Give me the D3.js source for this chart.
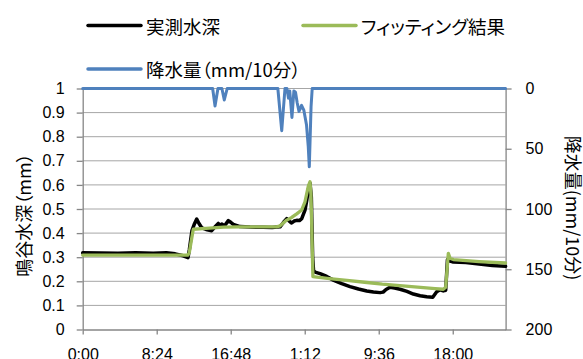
<!DOCTYPE html>
<html>
<head>
<meta charset="utf-8">
<script src="https://cdn.jsdelivr.net/npm/d3@7"></script>
<style>
  html, body { margin: 0; padding: 0; background: #fff; }
  svg { display: block; }
  .tick text { font-family: "Liberation Sans", Arial, sans-serif; font-size: 16px; fill: #000; }
  .jp { font-family: "Noto Sans CJK JP", sans-serif; font-feature-settings: "palt"; fill: #000; }
</style>
</head>
<body>
<svg id="chart" width="583" height="359"></svg>
<script>
// Measured water depth (hours from start, depth in mm)
const measuredHours = [0, 2, 4, 6, 8, 9.5, 10.5, 11.4, 11.95, 12.1, 12.4, 12.7, 12.94, 13.2, 13.51, 14.0, 14.64, 15.0, 15.39, 15.6, 15.78, 16.1, 16.53, 16.8, 17.09, 17.86, 19, 20.5, 21.5, 22.4, 22.8, 23.16, 23.5, 23.72, 24.0, 24.29, 24.6, 24.86, 25.23, 25.45, 25.61, 25.8, 25.95, 26.1, 26.2, 26.37, 26.94, 27.7, 28.45, 29.4, 30.34, 31.3, 32.24, 33.0, 33.75, 34.1, 34.43, 34.88, 35.4, 36.02, 36.8, 37.53, 38.3, 39.05, 39.73, 40.18, 40.56, 40.93, 41.2, 41.4, 41.6, 42.07, 43.5, 45, 46.5, 48];
const measuredDepth = [0.318, 0.317, 0.316, 0.318, 0.316, 0.318, 0.314, 0.306, 0.298, 0.33, 0.41, 0.44, 0.458, 0.44, 0.422, 0.415, 0.41, 0.425, 0.44, 0.432, 0.438, 0.43, 0.452, 0.445, 0.436, 0.427, 0.425, 0.424, 0.423, 0.426, 0.445, 0.46, 0.448, 0.442, 0.45, 0.453, 0.452, 0.46, 0.495, 0.54, 0.58, 0.607, 0.55, 0.3, 0.245, 0.238, 0.232, 0.22, 0.205, 0.19, 0.178, 0.168, 0.16, 0.156, 0.153, 0.155, 0.166, 0.175, 0.172, 0.167, 0.158, 0.147, 0.14, 0.136, 0.134, 0.157, 0.165, 0.16, 0.163, 0.29, 0.285, 0.28, 0.278, 0.272, 0.266, 0.262];

// Fitted water depth
const fitHours = [0, 11.95, 12.1, 12.55, 14, 16, 18, 20, 22, 22.4, 23.16, 23.72, 24.29, 24.86, 25.23, 25.61, 25.8, 25.91, 26.13, 28, 30, 32, 34, 36, 38, 40, 40.93, 41.2, 41.5, 41.69, 42.07, 45, 48];
const fitDepth = [0.309, 0.309, 0.32, 0.416, 0.42, 0.425, 0.426, 0.426, 0.426, 0.43, 0.454, 0.465, 0.48, 0.496, 0.53, 0.595, 0.613, 0.56, 0.219, 0.211, 0.204, 0.196, 0.188, 0.182, 0.176, 0.17, 0.167, 0.175, 0.316, 0.296, 0.29, 0.282, 0.276];

// Rainfall (mm per 10 minutes)
const rainHours = [0, 14.75, 15.02, 15.35, 15.8, 16.07, 16.4, 22.15, 22.59, 22.96, 23.18, 23.36, 23.5, 23.75, 23.97, 24.15, 24.35, 24.55, 24.84, 25.1, 25.4, 25.6, 25.72, 25.92, 26.05, 48];
const rainValues = [0, 0, 14.5, 0, 0, 9.5, 0, 0, 35, 0, 0, 8, 2, 24, 2, 3, 12, 19, 14, 18, 30, 48, 65, 15, 0, 0];

// Axis ticks
const xTickHours = [0, 8.4, 16.8, 25.2, 33.6, 42];
const depthTicks = [0, 0.1, 0.2, 0.3, 0.4, 0.5, 0.6, 0.7, 0.8, 0.9, 1];
const rainTicks = [0, 50, 100, 150, 200];

const labels = {
  measured: "実測水深",
  fit: "フィッティング結果",
  rain: "降水量（mm/10分）",
  leftTitle: "鳴谷水深（mm）",
  rightTitle: "降水量(mm/10分)"
};

const colors = { measured: "#000000", fit: "#9BBB59", rain: "#4F81BD", grid: "#A6A6A6", axis: "#868686" };

const svg = d3.select("#chart");
const plot = { left: 82.7, right: 505.6, top: 88.5, bottom: 329.5 };

const x = d3.scaleLinear().domain([0, 48]).range([plot.left, plot.right]);
const y = d3.scaleLinear().domain([0, 1]).range([plot.bottom, plot.top]);
const yr = d3.scaleLinear().domain([0, 200]).range([plot.top, plot.bottom]);

// horizontal gridlines
svg.append("g").selectAll("line")
  .data(depthTicks.filter(d => d > 0))
  .join("line")
  .attr("x1", plot.left).attr("x2", plot.right)
  .attr("y1", d => y(d)).attr("y2", d => y(d))
  .attr("stroke", colors.grid).attr("stroke-width", 1);

function fmtTime(h) {
  const total = Math.round(h * 60) % (24 * 60);
  const hh = Math.floor(total / 60), mm = total % 60;
  return hh + ":" + String(mm).padStart(2, "0");
}

function styleAxis(g) {
  g.selectAll("path.domain").attr("stroke", colors.axis).attr("stroke-width", 1.3);
  g.selectAll(".tick line").attr("stroke", colors.axis).attr("stroke-width", 1.3);
}

// x axis
const gx = svg.append("g").attr("transform", `translate(0,${plot.bottom})`)
  .call(d3.axisBottom(x).tickValues(xTickHours).tickFormat(fmtTime).tickSize(5).tickSizeOuter(0).tickPadding(14.5));
styleAxis(gx);

// left axis
const gy = svg.append("g").attr("transform", `translate(${plot.left},0)`)
  .call(d3.axisLeft(y).tickValues(depthTicks).tickFormat(d => d3.format("")(d)).tickSize(6).tickSizeOuter(0).tickPadding(12));
styleAxis(gy);

// right axis
const gr = svg.append("g").attr("transform", `translate(${plot.right},0)`)
  .call(d3.axisRight(yr).tickValues(rainTicks).tickSize(6).tickSizeOuter(0).tickPadding(14));
styleAxis(gr);

// series lines
const rainLine = d3.line().x((d, i) => x(rainHours[i])).y(d => yr(d));
const depthLine = hours => d3.line().x((d, i) => x(hours[i])).y(d => y(d));

svg.append("path").datum(rainValues)
  .attr("d", rainLine)
  .attr("fill", "none").attr("stroke", colors.rain).attr("stroke-width", 3)
  .attr("stroke-linejoin", "round").attr("stroke-linecap", "round");

svg.append("path").datum(measuredDepth)
  .attr("d", depthLine(measuredHours))
  .attr("fill", "none").attr("stroke", colors.measured).attr("stroke-width", 3.5)
  .attr("stroke-linejoin", "round").attr("stroke-linecap", "round");

svg.append("path").datum(fitDepth)
  .attr("d", depthLine(fitHours))
  .attr("fill", "none").attr("stroke", colors.fit).attr("stroke-width", 3.3)
  .attr("stroke-linejoin", "round").attr("stroke-linecap", "round");

// legend
const legend = [
  { key: "measured", x: 88, y: 25.5 },
  { key: "fit", x: 303, y: 25.5 },
  { key: "rain", x: 88, y: 69 }
];
const lg = svg.append("g");
legend.forEach(item => {
  lg.append("line")
    .attr("x1", item.x).attr("x2", item.x + 53)
    .attr("y1", item.y).attr("y2", item.y)
    .attr("stroke", colors[item.key]).attr("stroke-width", 3.5)
    .attr("stroke-linecap", "round");
  lg.append("text").attr("class", "jp")
    .attr("x", item.x + 58).attr("y", item.y)
    .attr("dominant-baseline", "central")
    .attr("font-size", 18.5)
    .text(labels[item.key]);
});

// axis titles
svg.append("text").attr("class", "jp")
  .attr("transform", "translate(23,215) rotate(-90)")
  .attr("text-anchor", "middle").attr("dominant-baseline", "central")
  .attr("font-size", 18)
  .text(labels.leftTitle);

svg.append("text").attr("class", "jp")
  .attr("transform", "translate(574,208) rotate(90)")
  .attr("text-anchor", "middle").attr("dominant-baseline", "central")
  .attr("font-size", 18)
  .text(labels.rightTitle);
</script>
</body>
</html>
